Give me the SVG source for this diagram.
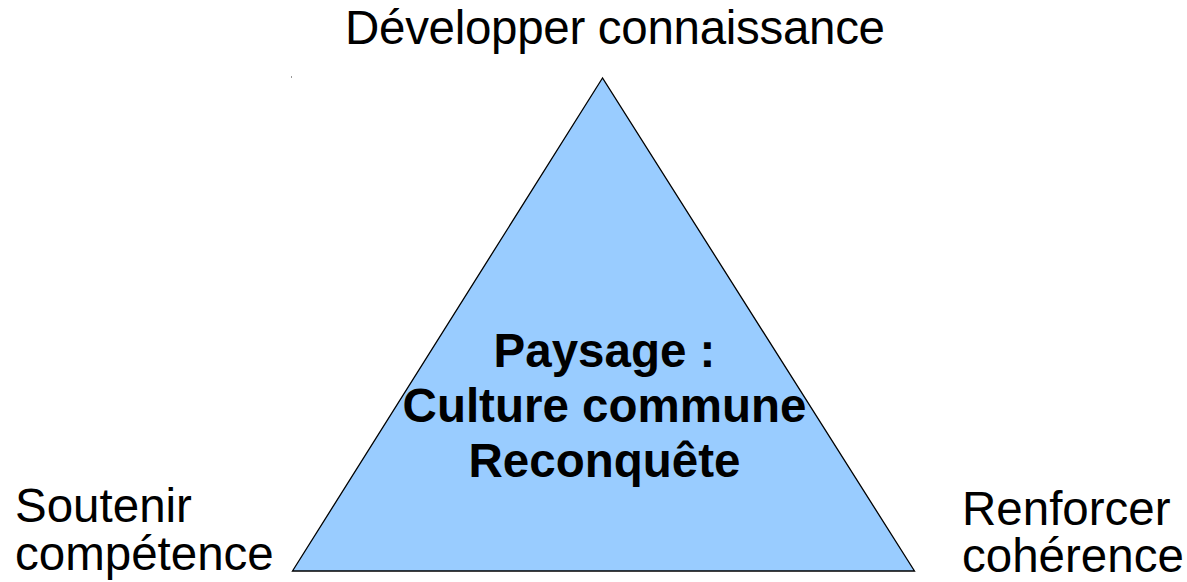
<svg xmlns="http://www.w3.org/2000/svg" width="1187" height="582" viewBox="0 0 1187 582">
<style>
.lbl{font-family:"Liberation Sans",Arial,sans-serif;font-size:47.5px;fill:#000}
.ctr{font-family:"Liberation Sans",Arial,sans-serif;font-size:47.5px;font-weight:bold;fill:#000;text-anchor:middle}
</style>
<rect width="1187" height="582" fill="#fff"/>
<rect x="291" y="76" width="1" height="2" fill="#999"/>
<g id="triangle">
<polygon points="602.5,78 292.5,571 914.5,571" fill="#99ccff" stroke="#000" stroke-width="1.3"/>
<text class="ctr" x="604.5" y="367">Paysage :</text>
<text class="ctr" x="604.5" y="422">Culture commune</text>
<text class="ctr" x="604.5" y="477">Reconquête</text>
</g>
<g id="top-label"><text class="lbl" x="345" y="44" textLength="540">Développer connaissance</text></g>
<g id="left-label">
<text class="lbl" x="15" y="522">Soutenir</text>
<text class="lbl" x="15" y="570">compétence</text>
</g>
<g id="right-label">
<text class="lbl" x="962" y="525">Renforcer</text>
<text class="lbl" x="962" y="572">cohérence</text>
</g>
<g id="connectors"/>
</svg>
